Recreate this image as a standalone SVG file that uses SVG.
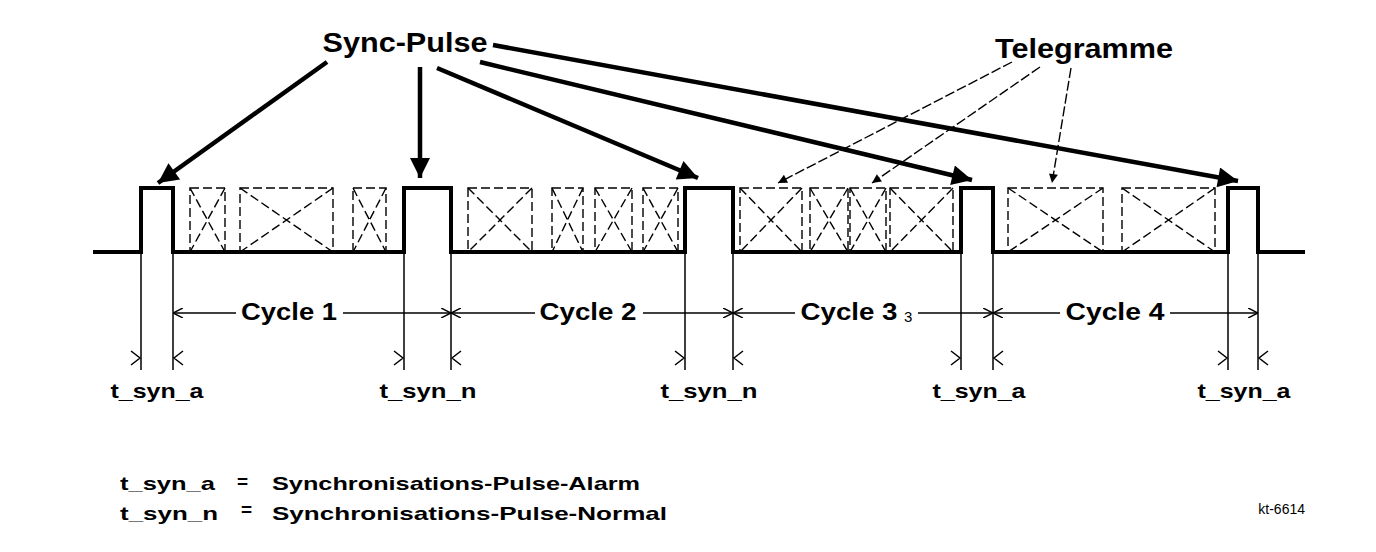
<svg xmlns="http://www.w3.org/2000/svg" width="1376" height="552" viewBox="0 0 1376 552">
<defs>
<style>
text{font-family:"Liberation Sans",Arial,sans-serif;font-weight:bold;fill:#000}
text.n{font-weight:normal}
.wave{fill:none;stroke:#000;stroke-width:4;stroke-linejoin:miter}
.tg{fill:none;stroke:#000;stroke-width:1.4;stroke-dasharray:9 4}
.thick{fill:none;stroke:#000;stroke-width:4.5}
.thin{fill:none;stroke:#000;stroke-width:1.4}
.dim{fill:none;stroke:#000;stroke-width:1.5}
.tick{fill:none;stroke:#000;stroke-width:1.5}
</style>
<marker id="big" viewBox="0 0 10 10" refX="10" refY="5" markerWidth="26" markerHeight="20" markerUnits="userSpaceOnUse" orient="auto">
<path d="M0,0 L10,5 L0,10 z" fill="#000"/>
</marker>
<marker id="small" viewBox="0 0 10 10" refX="10" refY="5" markerWidth="13" markerHeight="9" markerUnits="userSpaceOnUse" orient="auto">
<path d="M0,0 L10,5 L0,10 z" fill="#000"/>
</marker>
<marker id="open" viewBox="0 0 10 10" refX="10" refY="5" markerWidth="10" markerHeight="10" markerUnits="userSpaceOnUse" orient="auto">
<path d="M0,0 L10,5 L0,10" fill="none" stroke="#000" stroke-width="1.5"/>
</marker>
</defs>
<rect width="1376" height="552" fill="#fff"/>

<g id="sync-pulse-label"><text x="405" y="52" font-size="28" text-anchor="middle" textLength="165" lengthAdjust="spacingAndGlyphs">Sync-Pulse</text></g>
<g id="telegramme-label"><text x="1084" y="58" font-size="28" text-anchor="middle" textLength="178" lengthAdjust="spacingAndGlyphs">Telegramme</text></g>

<g id="waveform">
<path class="wave" d="M93 252 H141 V188 H173 V252 H404 V188 H451 V252 H685 V188 H733 V252 H961 V188 H993 V252 H1228 V188 H1258 V252 H1305"/>
</g>

<g id="telegrams">
<g id="tg1"><rect class="tg" x="190" y="188" width="35" height="64"/><path class="tg" d="M190 188 L225 252 M225 188 L190 252"/></g>
<g id="tg2"><rect class="tg" x="240" y="188" width="93" height="64"/><path class="tg" d="M240 188 L333 252 M333 188 L240 252"/></g>
<g id="tg3"><rect class="tg" x="353" y="188" width="33" height="64"/><path class="tg" d="M353 188 L386 252 M386 188 L353 252"/></g>
<g id="tg4"><rect class="tg" x="468" y="188" width="64" height="64"/><path class="tg" d="M468 188 L532 252 M532 188 L468 252"/></g>
<g id="tg5"><rect class="tg" x="552" y="188" width="31" height="64"/><path class="tg" d="M552 188 L583 252 M583 188 L552 252"/></g>
<g id="tg6"><rect class="tg" x="595" y="188" width="37" height="64"/><path class="tg" d="M595 188 L632 252 M632 188 L595 252"/></g>
<g id="tg7"><rect class="tg" x="643" y="188" width="35" height="64"/><path class="tg" d="M643 188 L678 252 M678 188 L643 252"/></g>
<g id="tg8"><rect class="tg" x="740" y="188" width="62" height="64"/><path class="tg" d="M740 188 L802 252 M802 188 L740 252"/></g>
<g id="tg9"><rect class="tg" x="810" y="188" width="38" height="64"/><path class="tg" d="M810 188 L848 252 M848 188 L810 252"/></g>
<g id="tg10"><rect class="tg" x="850" y="188" width="36" height="64"/><path class="tg" d="M850 188 L886 252 M886 188 L850 252"/></g>
<g id="tg11"><rect class="tg" x="890" y="188" width="63" height="64"/><path class="tg" d="M890 188 L953 252 M953 188 L890 252"/></g>
<g id="tg12"><rect class="tg" x="1008" y="188" width="95" height="64"/><path class="tg" d="M1008 188 L1103 252 M1103 188 L1008 252"/></g>
<g id="tg13"><rect class="tg" x="1122" y="188" width="93" height="64"/><path class="tg" d="M1122 188 L1215 252 M1215 188 L1122 252"/></g>
</g>

<g id="dimension-lines">
<path class="dim" d="M141 252 V370 M173 252 V370 M404 252 V370 M451 252 V370 M685 252 V370 M733 252 V370 M961 252 V370 M993 252 V370 M1228 252 V370 M1258 252 V370"/>
<path class="tick" d="M131 351 L140 358 L131 365 M183 351 L174 358 L183 365 M394 351 L403 358 L394 365 M461 351 L452 358 L461 365 M675 351 L684 358 L675 365 M743 351 L734 358 L743 365 M951 351 L960 358 L951 365 M1003 351 L994 358 L1003 365 M1218 351 L1227 358 L1218 365 M1268 351 L1259 358 L1268 365"/>
</g>

<g id="cycle1"><text x="289" y="320" font-size="24" text-anchor="middle" textLength="96" lengthAdjust="spacingAndGlyphs">Cycle 1</text></g>
<g id="cycle2"><text x="588" y="320" font-size="24" text-anchor="middle" textLength="97" lengthAdjust="spacingAndGlyphs">Cycle 2</text></g>
<g id="cycle3"><text x="849" y="320" font-size="24" text-anchor="middle" textLength="97" lengthAdjust="spacingAndGlyphs">Cycle 3</text><text class="n" x="904" y="322" font-size="15">3</text></g>
<g id="cycle4"><text x="1115" y="320" font-size="24" text-anchor="middle" textLength="99" lengthAdjust="spacingAndGlyphs">Cycle 4</text></g>

<g id="pulse-labels">
<text x="157" y="398" font-size="21" text-anchor="middle" textLength="93" lengthAdjust="spacingAndGlyphs">t_syn_a</text>
<text x="428" y="398" font-size="21" text-anchor="middle" textLength="97" lengthAdjust="spacingAndGlyphs">t_syn_n</text>
<text x="709" y="398" font-size="21" text-anchor="middle" textLength="97" lengthAdjust="spacingAndGlyphs">t_syn_n</text>
<text x="979" y="398" font-size="21" text-anchor="middle" textLength="93" lengthAdjust="spacingAndGlyphs">t_syn_a</text>
<text x="1244" y="398" font-size="21" text-anchor="middle" textLength="93" lengthAdjust="spacingAndGlyphs">t_syn_a</text>
</g>

<g id="legend">
<text x="120" y="490" font-size="19" textLength="95" lengthAdjust="spacingAndGlyphs">t_syn_a</text>
<text x="237" y="488" font-size="19">=</text>
<text x="272" y="490" font-size="19" textLength="368" lengthAdjust="spacingAndGlyphs">Synchronisations-Pulse-Alarm</text>
<text x="120" y="520" font-size="19" textLength="98" lengthAdjust="spacingAndGlyphs">t_syn_n</text>
<text x="241" y="516" font-size="19">=</text>
<text x="272" y="520" font-size="19" textLength="395" lengthAdjust="spacingAndGlyphs">Synchronisations-Pulse-Normal</text>
</g>

<g id="figure-id"><text class="n" x="1305" y="514" font-size="14" text-anchor="end">kt-6614</text></g>

<g id="connectors">
<path class="thick" marker-end="url(#big)" d="M327 62 L158 183"/>
<path class="thick" marker-end="url(#big)" d="M420 67 L420 178"/>
<path class="thick" marker-end="url(#big)" d="M437 68 L698 178"/>
<path class="thick" marker-end="url(#big)" d="M480 62 L972 180"/>
<path class="thick" marker-end="url(#big)" d="M493 45 L1238 181"/>
<path class="thin" stroke-dasharray="10 3" marker-end="url(#small)" d="M1012 62 L778 183"/>
<path class="thin" stroke-dasharray="10 3" marker-end="url(#small)" d="M1040 67 L872 183"/>
<path class="thin" stroke-dasharray="10 3" marker-end="url(#small)" d="M1071 68 L1052 183"/>
<path class="thin" marker-end="url(#open)" d="M236 313 H173"/>
<path class="thin" marker-end="url(#open)" d="M343 313 H451"/>
<path class="thin" marker-end="url(#open)" d="M535 313 H451"/>
<path class="thin" marker-end="url(#open)" d="M643 313 H733"/>
<path class="thin" marker-end="url(#open)" d="M795 313 H733"/>
<path class="thin" marker-end="url(#open)" d="M918 313 H993"/>
<path class="thin" marker-end="url(#open)" d="M1060 313 H993"/>
<path class="thin" marker-end="url(#open)" d="M1170 313 H1258"/>
</g>
</svg>
